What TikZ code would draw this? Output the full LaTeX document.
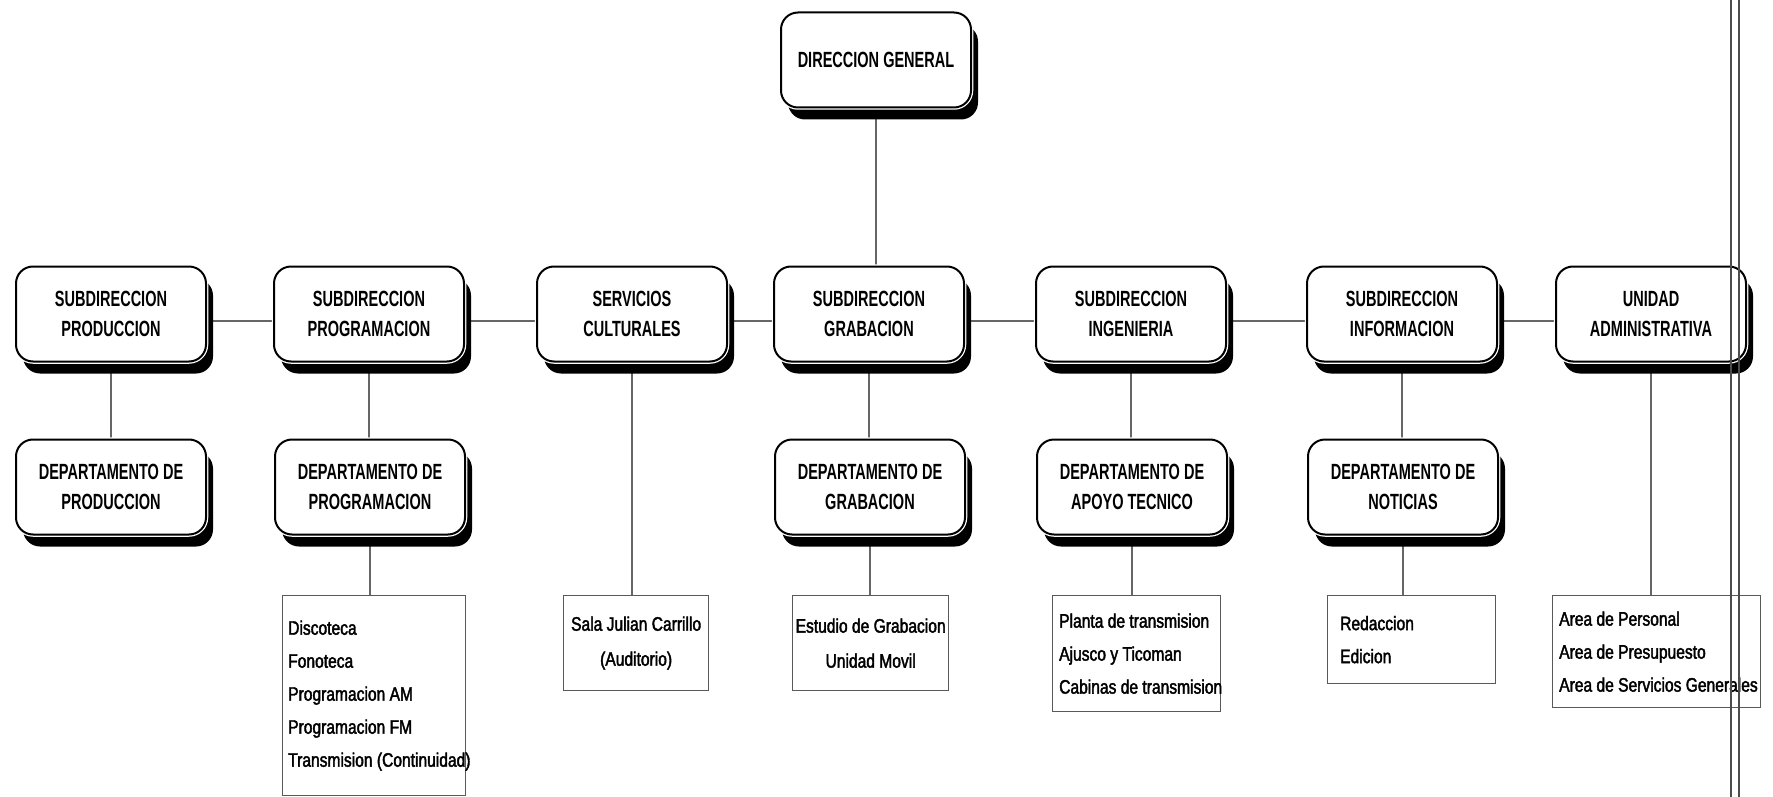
\documentclass[tikz,border=0pt]{standalone}
\usepackage{fontspec}
\newfontfamily\boxfont[FakeStretch=0.66]{Liberation Sans}
\newfontfamily\listfont[FakeStretch=0.8,FakeBold=2]{Liberation Sans}
\usetikzlibrary{shadows,backgrounds}
\begin{document}
\begin{tikzpicture}[x=1pt,y=-1pt,
  orgbox/.style={rounded corners=17pt, minimum width=190pt, minimum height=95pt,
    align=center, fill=white, draw=black, line width=2pt, inner sep=0pt,
    font=\boxfont\bfseries\fontsize{22}{30}\selectfont,
    drop shadow={shadow xshift=7pt, shadow yshift=-12pt, fill=black, opacity=1},
    preaction={draw=white, line width=4.5pt}},
  listbox/.style={draw=black!65, line width=1.3pt, fill=white, anchor=north west, inner sep=0pt},
  listtext/.style={align=left, inner sep=0pt, font=\listfont\fontsize{19.5}{33}\selectfont},
  listtextc/.style={align=center, inner sep=0pt, font=\listfont\fontsize{19.5}{35}\selectfont},
  conn/.style={draw=black!60, line width=1.3pt},
  edge/.style={draw=black!70, line width=1.3pt}]
\useasboundingbox (0,0) rectangle (1773,797);
% top
\node[orgbox] (dg) at (876,60) {DIRECCION GENERAL};
% row of subdirecciones
\node[orgbox] (b1) at (111,314) {SUBDIRECCION\\PRODUCCION};
\node[orgbox] (b2) at (369,314) {SUBDIRECCION\\PROGRAMACION};
\node[orgbox] (b3) at (632,314) {SERVICIOS\\CULTURALES};
\node[orgbox] (b4) at (869,314) {SUBDIRECCION\\GRABACION};
\node[orgbox] (b5) at (1131,314) {SUBDIRECCION\\INGENIERIA};
\node[orgbox] (b6) at (1402,314) {SUBDIRECCION\\INFORMACION};
\node[orgbox] (b7) at (1651,314) {UNIDAD\\ADMINISTRATIVA};
% departamentos
\node[orgbox] (d1) at (111,487) {DEPARTAMENTO DE\\PRODUCCION};
\node[orgbox] (d2) at (370,487) {DEPARTAMENTO DE\\PROGRAMACION};
\node[orgbox] (d4) at (870,487) {DEPARTAMENTO DE\\GRABACION};
\node[orgbox] (d5) at (1132,487) {DEPARTAMENTO DE\\APOYO TECNICO};
\node[orgbox] (d6) at (1403,487) {DEPARTAMENTO DE\\NOTICIAS};
% lists
\node[listbox, minimum width=183pt, minimum height=200pt] (l2) at (282,595) {};
\node[listtext, anchor=west] (t2) at ([xshift=6pt]l2.west)
  {Discoteca\\Fonoteca\\Programacion AM\\Programacion FM\\Transmision (Continuidad)};
\node[listbox, minimum width=145pt, minimum height=95pt] (l3) at (563,595) {};
\node[listtextc] (t3) at (l3.center) {Sala Julian Carrillo\\(Auditorio)};
\node[listbox, minimum width=156pt, minimum height=95pt] (l4) at (792,595) {};
\node[listtextc] (t4) at (l4.center) {Estudio de Grabacion\\Unidad Movil};
\node[listbox, minimum width=168pt, minimum height=116pt] (l5) at (1052,595) {};
\node[listtext, anchor=west] (t5) at ([xshift=7pt]l5.west)
  {Planta de transmision\\Ajusco y Ticoman\\Cabinas de transmision};
\node[listbox, minimum width=168pt, minimum height=88pt] (l6) at (1327,595) {};
\node[listtext, anchor=west] (t6) at ([xshift=13pt]l6.west) {Redaccion\\Edicion};
\node[listbox, minimum width=208pt, minimum height=112pt] (l7) at (1552,595) {};
\node[listtext, anchor=west] (t7) at ([xshift=7pt]l7.west)
  {Area de Personal\\Area de Presupuesto\\Area de Servicios Generales};
% connectors
\begin{scope}[on background layer]
\fill[white] (0,0) rectangle (1773,797);
\draw[conn] (dg.south) -- (dg.south |- b4.north);
\draw[conn] ([yshift=-7pt]b1.east) -- ([yshift=-7pt]b2.west);
\draw[conn] ([yshift=-7pt]b2.east) -- ([yshift=-7pt]b3.west);
\draw[conn] ([yshift=-7pt]b3.east) -- ([yshift=-7pt]b4.west);
\draw[conn] ([yshift=-7pt]b4.east) -- ([yshift=-7pt]b5.west);
\draw[conn] ([yshift=-7pt]b5.east) -- ([yshift=-7pt]b6.west);
\draw[conn] ([yshift=-7pt]b6.east) -- ([yshift=-7pt]b7.west);
\draw[conn] (b1.south) -- (b1.south |- d1.north);
\draw[conn] (b2.south) -- (b2.south |- d2.north);
\draw[conn] (b3.south) -- (b3.south |- l3.north);
\draw[conn] (b4.south) -- (b4.south |- d4.north);
\draw[conn] (b5.south) -- (b5.south |- d5.north);
\draw[conn] (b6.south) -- (b6.south |- d6.north);
\draw[conn] (b7.south) -- (b7.south |- l7.north);
\draw[conn] (d2.south) -- (d2.south |- l2.north);
\draw[conn] (d4.south) -- (d4.south |- l4.north);
\draw[conn] (d5.south) -- (d5.south |- l5.north);
\draw[conn] (d6.south) -- (d6.south |- l6.north);
\end{scope}
% page edge double line
\draw[edge] (1731,0) -- (1731,797);
\draw[edge] (1739,0) -- (1739,797);
\end{tikzpicture}
\end{document}
